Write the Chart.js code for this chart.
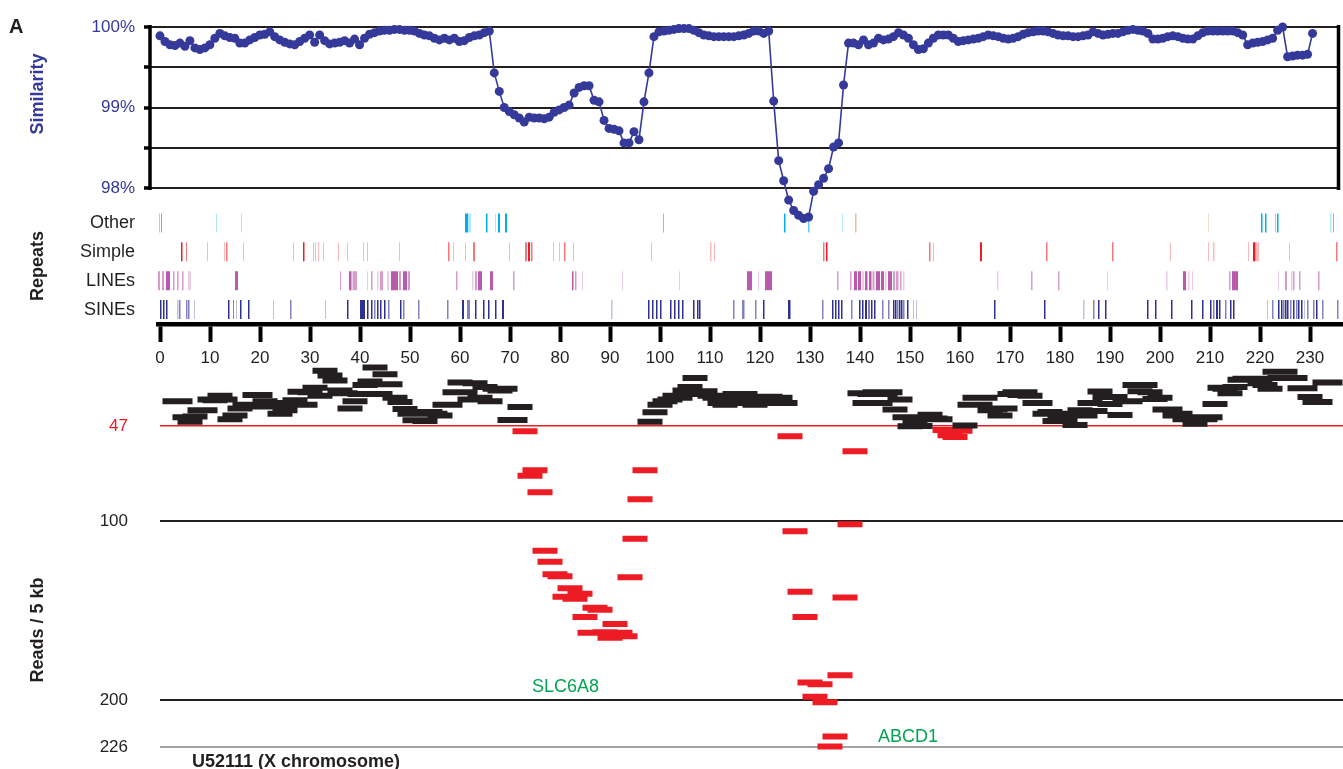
<!DOCTYPE html>
<html>
<head>
<meta charset="utf-8">
<script src="https://cdn.jsdelivr.net/npm/chart.js@4.4.1/dist/chart.umd.min.js"></script>
<style>
  html, body { margin: 0; padding: 0; background: #fff; }
  #wrap { position: relative; width: 1343px; height: 769px; overflow: hidden; background: #fff; }
  #wrap canvas { position: absolute; left: 0; top: 0; }
</style>
</head>
<body>
<div id="wrap">
  <canvas id="reads" width="1343" height="769"></canvas>
  <canvas id="repeats" width="1343" height="769"></canvas>
  <canvas id="similarity" width="1343" height="769"></canvas>
</div>
<script>
// ---- data ----
const xTicks = [0, 10, 20, 30, 40, 50, 60, 70, 80, 90, 100, 110, 120, 130, 140, 150, 160, 170, 180, 190, 200, 210, 220, 230];
const similarityTicks = [98, 98.5, 99, 99.5, 100];
const readsTicks = [47, 100, 200, 226];
const readsCutoff = 47;
const rowNames = ["Other", "Simple", "LINEs", "SINEs"];

// similarity (%) per kb, starting at 0 kb
const similarity = [
  99.89, 99.82, 99.78, 99.77, 99.80, 99.76, 99.83, 99.74, 99.72, 99.74,
  99.78, 99.86, 99.92, 99.89, 99.87, 99.86, 99.80, 99.80, 99.84, 99.87,
  99.90, 99.91, 99.94, 99.88, 99.84, 99.81, 99.79, 99.78, 99.82, 99.86,
  99.90, 99.81, 99.90, 99.83, 99.79, 99.80, 99.81, 99.83, 99.80, 99.85,
  99.78, 99.86, 99.91, 99.93, 99.95, 99.96, 99.96, 99.97, 99.97, 99.96,
  99.96, 99.95, 99.92, 99.90, 99.89, 99.86, 99.84, 99.86, 99.84, 99.86,
  99.82, 99.83, 99.87, 99.89, 99.90, 99.93, 99.95, 99.43, 99.20, 99.00,
  98.95, 98.91, 98.87, 98.82, 98.88, 98.87, 98.87, 98.86, 98.88, 98.94,
  98.97, 99.00, 99.03, 99.18, 99.25, 99.27, 99.27, 99.09, 99.07, 98.84,
  98.74, 98.73, 98.71, 98.56, 98.56, 98.70, 98.60, 99.07, 99.43, 99.88,
  99.94, 99.95, 99.96, 99.97, 99.98, 99.98, 99.98, 99.96, 99.93, 99.90,
  99.89, 99.88, 99.88, 99.88, 99.88, 99.88, 99.89, 99.90, 99.92, 99.95,
  99.95, 99.92, 99.95, 99.08, 98.34, 98.09, 97.85, 97.72, 97.66, 97.62,
  97.64, 97.96, 98.04, 98.12, 98.24, 98.51, 98.56, 99.28, 99.80, 99.80,
  99.78, 99.84, 99.78, 99.80, 99.86, 99.84, 99.85, 99.88, 99.93, 99.90,
  99.86, 99.78, 99.72, 99.73, 99.80, 99.86, 99.90, 99.90, 99.90, 99.86,
  99.82, 99.83, 99.84, 99.85, 99.86, 99.88, 99.90, 99.89, 99.88, 99.86,
  99.85, 99.86, 99.88, 99.91, 99.93, 99.94, 99.95, 99.95, 99.94, 99.92,
  99.90, 99.89, 99.89, 99.88, 99.88, 99.89, 99.90, 99.94, 99.92, 99.90,
  99.91, 99.92, 99.92, 99.94, 99.96, 99.97, 99.96, 99.95, 99.92, 99.85,
  99.85, 99.86, 99.88, 99.89, 99.88, 99.86, 99.85, 99.85, 99.89, 99.93,
  99.95, 99.95, 99.95, 99.95, 99.95, 99.95, 99.93, 99.90, 99.78, 99.80,
  99.81, 99.82, 99.84, 99.86, 99.96, 100.00, 99.63, 99.64, 99.65, 99.65,
  99.66, 99.92
];

// repeats: [start kb, length kb, shade 1..3]
const repeatsOther = [ // 4th field: o = orange family, c = cyan family
  [-0.2, 0.2, 2, "o"], [0.2, 0.2, 3, "o"], [11.2, 0.2, 1, "c"], [16.2, 0.2, 1, "c"],
  [61, 0.6, 3, "c"], [61.6, 0.6, 1, "c"], [65.2, 0.3, 3, "c"], [67, 0.2, 1, "c"], [67.6, 0.4, 3, "c"], [69, 0.4, 3, "c"],
  [100.6, 0.2, 2, "c"], [124.8, 0.3, 3, "c"], [129.6, 0.3, 2, "c"], [136.4, 0.2, 1, "c"], [137.6, 0.2, 1, "o"], [139, 0.3, 2, "o"],
  [200.2, 0.2, 1, "o"], [209.6, 0.2, 1, "o"], [220.2, 0.3, 3, "c"], [221, 0.3, 3, "c"], [222, 0.2, 1, "o"], [223, 0.2, 2, "o"],
  [223.4, 0.3, 3, "c"], [234, 0.3, 1, "c"], [234.6, 0.2, 2, "c"]
];
const repeatsSimple = [
  [4.2, 0.3, 3], [5.2, 0.2, 2], [9.4, 0.2, 1], [12.8, 0.2, 1], [13.2, 0.3, 2], [16.6, 0.2, 1], [26.6, 0.2, 1], [28.6, 0.3, 3],
  [30.6, 0.2, 1], [31, 0.2, 1], [31.6, 0.2, 1], [32.6, 0.2, 1], [35.6, 0.2, 1], [37.4, 0.2, 1], [40.6, 0.2, 1], [41.4, 0.2, 1],
  [47.8, 0.2, 1], [57.6, 0.3, 2], [58.6, 0.2, 1], [61, 0.2, 1], [62.6, 0.4, 2], [69.8, 0.2, 1], [73, 0.4, 2], [73.6, 0.4, 3],
  [74.2, 0.3, 2], [78.6, 0.2, 1], [79.8, 0.2, 1], [80.8, 0.3, 2], [82.6, 0.2, 1], [98.2, 0.2, 1], [110, 0.3, 1], [110.8, 0.2, 1],
  [132.6, 0.3, 2], [133.2, 0.3, 3], [134, 0.2, 1], [153.8, 0.3, 2], [154.6, 0.2, 1], [155, 0.2, 1], [164, 0.4, 3], [177.2, 0.3, 2],
  [190.4, 0.3, 2], [202, 0.2, 1], [208.6, 0.2, 1], [209.6, 0.2, 1], [210.6, 0.3, 1], [217.6, 0.2, 1], [218.6, 0.5, 3], [219.2, 0.6, 1],
  [225.8, 0.2, 1], [235.2, 0.3, 2]
];
const repeatsLINE = [
  [-0.4, 0.4, 2], [0.4, 0.4, 2], [1.2, 0.8, 3], [2.6, 0.3, 2], [3.4, 0.3, 2], [4.4, 0.3, 2], [5.6, 0.6, 1], [15, 0.6, 3],
  [36, 0.2, 2], [37.8, 0.5, 3], [38.5, 0.9, 2], [41.4, 0.2, 1], [42.2, 0.3, 2], [43.4, 0.3, 1], [44, 0.6, 2], [45.4, 0.4, 1],
  [46.2, 1.4, 3], [47.8, 0.4, 2], [48.6, 0.8, 3], [49.6, 0.4, 2], [59.2, 0.3, 2], [62.4, 0.3, 1], [63, 0.4, 2], [63.6, 0.8, 3],
  [66, 0.6, 3], [70.6, 0.3, 2], [82.4, 0.3, 3], [83, 0.3, 2], [84.4, 0.2, 1], [92.4, 0.2, 1], [103.8, 0.2, 1], [117.4, 1.0, 3],
  [119.6, 0.2, 1], [121, 1.4, 3], [132, 0.2, 1], [132.6, 0.2, 1], [135.4, 0.3, 2], [136.6, 0.2, 1], [138, 0.3, 2], [138.8, 0.6, 3],
  [139.6, 0.6, 3], [140.4, 0.4, 1], [141, 0.5, 3], [141.8, 0.5, 3], [142.5, 0.4, 2], [143.2, 0.8, 3], [144.2, 0.6, 3], [145, 0.3, 1],
  [145.6, 0.8, 3], [146.6, 0.4, 2], [147.2, 0.5, 2], [148, 0.3, 2], [148.6, 0.3, 1], [167.4, 0.3, 1], [174.2, 0.3, 2], [179.6, 0.3, 2],
  [189.4, 0.2, 1], [201.2, 0.3, 1], [204.6, 0.6, 3], [205.6, 0.3, 1], [206.4, 0.2, 1], [213.8, 0.3, 2], [214.4, 1.2, 3], [223.6, 0.2, 1],
  [225, 0.4, 2], [226.2, 0.3, 1], [226.6, 0.3, 2], [227.8, 0.3, 2], [231.6, 0.3, 2]
];
const repeatsSINE = [
  [0, 0.3, 3], [0.6, 0.3, 3], [1.2, 0.3, 3], [3.4, 0.3, 1], [3.8, 0.3, 2], [5.2, 0.3, 2], [5.6, 0.3, 2], [6.8, 0.2, 1],
  [13.6, 0.3, 3], [14.6, 0.2, 2], [15.2, 0.2, 1], [16, 0.3, 3], [17.6, 0.3, 3], [22.6, 0.2, 1], [26, 0.3, 2], [33, 0.2, 1],
  [37.4, 0.3, 3], [40, 1.0, 3], [41.4, 0.3, 3], [42.2, 0.3, 3], [42.8, 0.3, 2], [43.4, 0.3, 3], [44, 0.3, 3], [44.8, 0.3, 3],
  [45.6, 0.3, 2], [48, 0.3, 3], [48.6, 0.3, 2], [51.6, 0.3, 2], [57.4, 0.3, 2], [60.4, 0.4, 3], [61.4, 0.6, 2], [63, 0.3, 3],
  [64.6, 0.3, 3], [65.6, 0.3, 3], [67, 0.3, 3], [68.4, 0.4, 3], [90.2, 0.3, 1], [97.6, 0.3, 3], [98.4, 0.3, 3], [99.2, 0.3, 3],
  [100, 0.3, 3], [102, 0.3, 3], [102.8, 0.3, 3], [103.6, 0.3, 3], [104.4, 0.3, 3], [106.6, 0.3, 3], [107.4, 0.3, 3], [107.8, 0.3, 3],
  [114.6, 0.3, 2], [116.4, 0.5, 2], [119, 0.3, 2], [120.6, 0.3, 3], [125.6, 0.5, 3], [132.4, 0.3, 2], [134.4, 0.3, 3], [135, 0.3, 3],
  [135.6, 0.3, 3], [136.2, 0.3, 3], [138.2, 0.3, 2], [139.8, 0.3, 3], [140.4, 0.3, 3], [141, 0.4, 3], [141.6, 0.4, 2], [142.2, 0.3, 3],
  [142.8, 0.3, 3], [144.4, 0.3, 2], [145.6, 0.3, 2], [146.6, 0.3, 3], [147, 0.3, 3], [147.4, 0.3, 2], [147.8, 0.3, 3], [148.2, 0.3, 3],
  [148.6, 0.3, 2], [149.4, 0.3, 3], [150.6, 0.2, 1], [151.2, 0.2, 1], [166.8, 0.3, 3], [176.8, 0.3, 3], [184.6, 0.3, 1], [186.6, 0.3, 2],
  [187.6, 0.3, 3], [189, 0.3, 3], [197.4, 0.3, 3], [199, 0.3, 3], [202.2, 0.3, 3], [206.2, 0.3, 3], [208.4, 0.3, 3], [210, 0.3, 3],
  [210.6, 0.3, 2], [211.2, 0.4, 3], [211.8, 0.3, 3], [213, 0.3, 2], [214, 0.3, 3], [214.6, 0.3, 3], [221.4, 0.2, 1], [222.4, 0.3, 2],
  [223.6, 0.3, 3], [224.2, 0.3, 3], [224.6, 0.3, 2], [225, 0.3, 3], [225.4, 0.3, 3], [226, 0.3, 2], [226.6, 0.3, 3], [227.2, 0.3, 2],
  [227.6, 0.3, 3], [228.2, 0.3, 3], [228.8, 0.2, 1], [229.4, 0.3, 2], [230.6, 0.3, 2], [231.2, 0.3, 3], [232.4, 0.3, 2], [235.4, 0.3, 2]
];

// reads per 5 kb window, windows stepping 1 kb
const windowFirstKb = 0.5;
const windowLengthKb = 5;
const readsPer5kb = [
  33, 33, 42, 44.5, 41.5, 38, 38, 32, 32.5, 30,
  32, 43, 41, 37, 35, 36, 29.6, 29.6, 33, 36,
  34, 40, 38, 35, 32.5, 27.7, 35, 28, 25.5, 30,
  16, 18.7, 21.5, 27, 28.5, 37, 33, 29, 24, 22,
  14.2, 29, 18, 23.5, 31, 33.5, 37.3, 40, 43.6, 40,
  44, 39, 40, 41, 35, 35, 28, 22.6, 28, 32,
  23, 31, 25, 33, 26, 27, 26, 43.5, 43.5, 36.3,
  49.7, 74.6, 71.5, 83.8, 116.5, 122.6, 129.6, 130.7, 142.2, 137.4,
  143.3, 140.5, 153.4, 162.3, 148.3, 149.4, 162, 165, 157.3, 162.3,
  164.2, 131.3, 109.8, 87.7, 71.5, 44.4, 39.1, 35, 33, 32,
  30, 31, 27, 25, 20.1, 29, 27.5, 30, 31, 34,
  35, 31.6, 29, 32, 29, 34, 35, 31, 34, 30.5,
  33, 31, 34, 52.5, 105.6, 139.4, 153.4, 190, 198, 191,
  201, 225.7, 220.1, 186, 142.5, 101.7, 60.9, 28.5, 34, 29,
  28, 34, 29, 28, 37.6, 32, 42, 47, 44.4, 46.8,
  42, 40.6, 42.7, 43, 49, 52, 53, 49.5, 46.5, 35,
  31, 35, 31, 38, 37.5, 41, 37, 29, 28, 29.5,
  28, 30, 34, 34, 40, 39, 44, 43, 44, 40,
  46.3, 38, 41, 34, 38.5, 27.6, 30.7, 34.5, 30.7, 40.7,
  33, 33, 24, 27.5, 24, 28, 31.8, 31, 37.6, 37.6,
  41, 40, 43, 42, 45.6, 42, 43, 42, 34.5, 25.5,
  26, 28.5, 25, 21, 20.5, 21, 20.5, 23, 24, 26,
  16.5, 20, 16.5, 20, 20, 25.7, 25.7, 30.7, 33.5, 33.5,
  22.6, 22.6
];

const geneNames = ["SLC6A8", "ABCD1"];
const geneKb = [74.4, 143.6];
const geneReads = [192.7, 220.7];

// ---- styles ----
const FONT = "'Liberation Sans', Arial, Helvetica, sans-serif";
const INK = "#231f20";
const BLUE = "#34399a";
const RED = "#ed1c24";
const GREEN = "#00a651";
const shadeAlpha = { 1: 0.3, 2: 0.6, 3: 1 };
const familyColor = {
  o: [240, 135, 90],
  c: [0, 174, 239],
  simple: [237, 28, 36],
  line: [185, 90, 170],
  sine: [46, 49, 146]
};

Chart.defaults.font.family = FONT;
Chart.defaults.animation = false;
Chart.defaults.plugins.legend.display = false;
Chart.defaults.plugins.tooltip.enabled = false;

function fixedTicks(values) {
  return (scale) => { scale.ticks = values.map((v) => ({ value: v })); };
}

// ---- similarity panel ----
// the frame only spans 98-100 %, the plot area goes lower so the dip stays visible
const simFrame = {
  id: "simFrame",
  beforeDatasetsDraw(chart) {
    const { ctx, chartArea, scales } = chart;
    const top = scales.y.getPixelForValue(similarityTicks[similarityTicks.length - 1]);
    const bottom = scales.y.getPixelForValue(similarityTicks[0]);
    ctx.save();
    ctx.strokeStyle = "#000";
    ctx.lineWidth = 3.5;
    ctx.beginPath();
    ctx.moveTo(chartArea.left, top - 2);
    ctx.lineTo(chartArea.left, bottom + 2);
    ctx.moveTo(chartArea.right, top - 2);
    ctx.lineTo(chartArea.right, bottom + 2);
    ctx.stroke();
    ctx.restore();
  }
};

new Chart(document.getElementById("similarity"), {
  type: "line",
  data: {
    datasets: [{
      data: similarity.map((v, kb) => ({ x: kb, y: v })),
      borderColor: BLUE,
      borderWidth: 1.6,
      pointRadius: 4.5,
      pointBackgroundColor: BLUE,
      pointBorderWidth: 0,
      tension: 0,
      clip: false
    }]
  },
  options: {
    responsive: false,
    layout: { padding: { top: 27, bottom: 540.75, left: 0, right: 0 } },
    scales: {
      x: { type: "linear", display: false, min: -2, max: 236.2 },
      y: {
        min: 97.5, max: 100,
        afterBuildTicks: fixedTicks(similarityTicks),
        afterFit: (s) => { s.width = 150; },
        border: { display: false },
        grid: { color: INK, lineWidth: 2, tickLength: 6, tickWidth: 3.5, tickColor: "#000" },
        ticks: {
          color: BLUE, padding: 9, font: { size: 17 },
          callback: (v) => (v % 1 === 0 ? v + "%" : "")
        }
      },
      yRight: {
        position: "right", min: 97.5, max: 100,
        afterFit: (s) => { s.width = 2; },
        border: { display: false },
        grid: { display: false },
        ticks: { display: false }
      }
    }
  },
  plugins: [simFrame]
});

// ---- repeats panel ----
function rgba(c, a) { return `rgba(${c[0]},${c[1]},${c[2]},${a})`; }

function repeatDatasets(list, row, colorOf) {
  const groups = {};
  list.forEach((r) => {
    const color = colorOf(r);
    const key = color.join(",") + "|" + r[2];
    if (!groups[key]) groups[key] = { color: color, shade: r[2], pts: [] };
    groups[key].pts.push({ x: r[0], y: row }, { x: r[0] + r[1], y: row }, { x: r[0] + r[1], y: null });
  });
  return Object.values(groups).map((g) => ({
    data: g.pts,
    borderColor: rgba(g.color, shadeAlpha[g.shade]),
    borderWidth: 19,
    borderCapStyle: "butt",
    pointRadius: 0,
    spanGaps: false,
    tension: 0,
    clip: false
  }));
}

const repeatSets = [].concat(
  repeatDatasets(repeatsOther, 0, (r) => familyColor[r[3]]),
  repeatDatasets(repeatsSimple, 1, () => familyColor.simple),
  repeatDatasets(repeatsLINE, 2, () => familyColor.line),
  repeatDatasets(repeatsSINE, 3, () => familyColor.sine)
);

new Chart(document.getElementById("repeats"), {
  type: "line",
  data: { datasets: repeatSets },
  options: {
    responsive: false,
    layout: { padding: { top: 208.5, bottom: 385, left: 0, right: 1 } },
    scales: {
      x: {
        type: "linear", min: -0.4, max: 236.4,
        afterBuildTicks: fixedTicks(xTicks),
        afterFit: (s) => { s.height = 60; },
        border: { display: true, color: "#000", width: 4.5 },
        grid: { drawOnChartArea: false, tickLength: 18, tickWidth: 4, tickColor: "#000" },
        ticks: { color: INK, padding: 6, font: { size: 17 }, maxRotation: 0 }
      },
      y: {
        min: -0.5, max: 3.5, reverse: true,
        afterBuildTicks: fixedTicks([0, 1, 2, 3]),
        afterFit: (s) => { s.width = 158; },
        border: { display: false },
        grid: { drawOnChartArea: false, tickLength: 23, tickColor: "rgba(0,0,0,0)" },
        ticks: { color: INK, padding: 0, font: { size: 18 }, callback: (v) => rowNames[v] }
      }
    }
  }
});

// ---- reads panel ----
const lowReads = [];
const highReads = [];
readsPer5kb.forEach((v, i) => {
  const start = windowFirstKb + i;
  const target = v > readsCutoff + 0.5 ? highReads : lowReads;
  target.push({ x: start, y: v }, { x: start + windowLengthKb, y: v }, { x: start + windowLengthKb, y: null });
});

const barStyle = { borderWidth: 6, borderCapStyle: "butt", pointRadius: 0, spanGaps: false, tension: 0, clip: false };

const textPlugin = {
  id: "panelText",
  afterDraw(chart) {
    const { ctx, scales } = chart;
    ctx.save();
    ctx.fillStyle = INK;
    ctx.font = `bold 20px ${FONT}`;
    ctx.textAlign = "left";
    ctx.textBaseline = "middle";
    ctx.fillText("A", 9, 27);

    const side = [["Similarity", 94, BLUE], ["Repeats", 266, INK], ["Reads / 5 kb", 630, INK]];
    ctx.font = `bold 18px ${FONT}`;
    side.forEach(([t, y, c]) => {
      ctx.save();
      ctx.translate(38, y);
      ctx.rotate(-Math.PI / 2);
      ctx.textAlign = "center";
      ctx.fillStyle = c;
      ctx.fillText(t, 0, 0);
      ctx.restore();
    });

    ctx.fillStyle = INK;
    ctx.textBaseline = "alphabetic";
    ctx.fillText("U52111 (X chromosome)", 192, 767);

    ctx.fillStyle = GREEN;
    ctx.font = `18px ${FONT}`;
    ctx.textBaseline = "middle";
    geneNames.forEach((g, i) => {
      ctx.fillText(g, scales.x.getPixelForValue(geneKb[i]), scales.y.getPixelForValue(geneReads[i]));
    });
    ctx.restore();
  }
};

new Chart(document.getElementById("reads"), {
  type: "line",
  data: {
    datasets: [
      Object.assign({ data: lowReads, borderColor: INK }, barStyle),
      Object.assign({ data: highReads, borderColor: RED }, barStyle)
    ]
  },
  options: {
    responsive: false,
    layout: { padding: { top: 360, bottom: 22, left: 0, right: 0 } },
    scales: {
      x: { type: "linear", display: false, min: 0, max: 236.6 },
      y: {
        min: 10, max: 226, reverse: true,
        afterBuildTicks: fixedTicks(readsTicks),
        afterFit: (s) => { s.width = 160; },
        border: { display: false },
        grid: {
          drawTicks: true, tickLength: 32, tickColor: "rgba(0,0,0,0)",
          color: (c) => (c.tick.value === readsCutoff ? RED : c.tick.value === 226 ? "#a3a3a3" : INK),
          lineWidth: (c) => (c.tick.value === readsCutoff ? 1.6 : 2)
        },
        ticks: {
          padding: 0, font: { size: 17 },
          color: (c) => (c.tick.value === readsCutoff ? RED : INK)
        }
      }
    }
  },
  plugins: [textPlugin]
});
</script>
</body>
</html>
